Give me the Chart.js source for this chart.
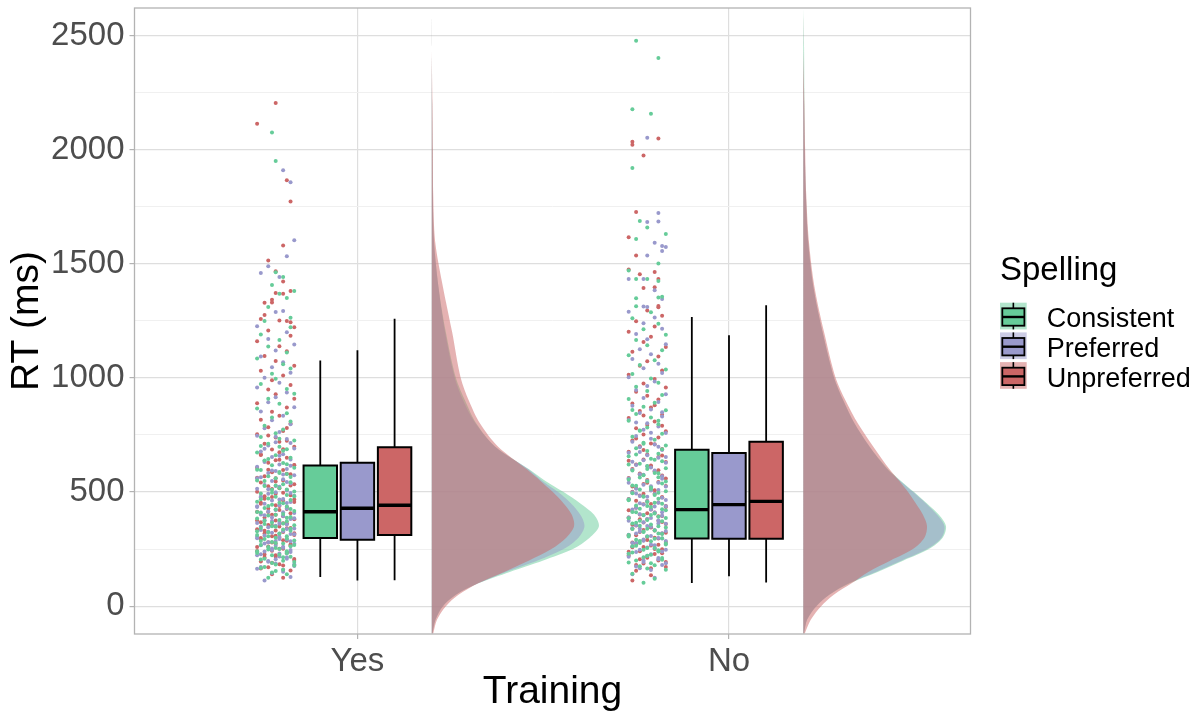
<!DOCTYPE html>
<html>
<head>
<meta charset="utf-8">
<script src="https://cdn.jsdelivr.net/npm/chart.js@4.4.1/dist/chart.umd.min.js"></script>
<style>
  html, body { margin: 0; padding: 0; background: #fff; }
</style>
</head>
<body>
<canvas id="rt_raincloud" width="1200" height="716"></canvas>
<script>
// categories
const trainingLevels = ['Yes', 'No'];
const spellings = ['Consistent', 'Preferred', 'Unpreferred'];
const yTickValues = [0, 250, 500, 750, 1000, 1250, 1500, 1750, 2000, 2250, 2500];

// boxplot stats, [training][spelling]
const boxLow  = [[128, 112, 113], [102, 131, 104]];
const boxQ1   = [[299, 291, 312], [296, 295, 295]];
const boxMed  = [[414, 429, 442], [423, 445, 459]];
const boxQ3   = [[616, 628, 696], [685, 671, 720]];
const boxHigh = [[1076, 1121, 1259], [1267, 1187, 1318]];

// half-violin densities: RT grid and width (in category units)
const densityRT = [-120, -60, 0, 50, 100, 150, 200, 250, 300, 350, 400, 450, 500, 550, 600, 700, 800, 900, 1000, 1200, 1400, 1600, 1800, 2000, 2200, 2450, 2620];
const densYesConsistent  = [0.002,0.01,0.03,0.065,0.125,0.21,0.30,0.38,0.425,0.45,0.437,0.40,0.355,0.305,0.262,0.17,0.12,0.09,0.065,0.038,0.018,0.006,0.003,0.002,0.001,0,0];
const densYesPreferred   = [0.002,0.01,0.03,0.065,0.125,0.2,0.285,0.355,0.395,0.411,0.40,0.375,0.34,0.297,0.26,0.17,0.118,0.085,0.062,0.036,0.018,0.006,0.003,0.002,0.001,0,0];
const densYesUnpreferred = [0.004,0.014,0.038,0.072,0.125,0.195,0.262,0.322,0.362,0.383,0.377,0.355,0.326,0.292,0.256,0.178,0.13,0.1,0.078,0.055,0.03,0.009,0.004,0.003,0.002,0,0];
const densNoConsistent   = [0.002,0.01,0.035,0.07,0.125,0.2,0.27,0.338,0.375,0.384,0.365,0.333,0.298,0.262,0.228,0.178,0.138,0.108,0.083,0.052,0.027,0.013,0.007,0.004,0.003,0.002,0];
const densNoPreferred    = [0.002,0.01,0.035,0.07,0.122,0.195,0.265,0.333,0.372,0.38,0.36,0.33,0.296,0.26,0.226,0.178,0.138,0.108,0.083,0.052,0.027,0.013,0.007,0.004,0.002,0,0];
const densNoUnpreferred  = [0.004,0.02,0.048,0.082,0.13,0.175,0.235,0.295,0.326,0.333,0.322,0.303,0.282,0.258,0.232,0.188,0.147,0.114,0.087,0.056,0.03,0.015,0.008,0.005,0.003,0,0];

// raw trials: [RT, jitter in hundredths of a category]
const ptsYesConsistent = [[2076,-1],[1951,0],[1463,0],[1442,2],[1407,-1],[1381,5],[1369,1],[1350,3],[1311,-2],[1264,4],[1250,-3],[1222,4],
 [1190,-4],[1166,1],[1138,-2],[1112,3],[1085,-5],[1060,2],[1041,4],[1018,-1],[996,0],[973,-4],[952,3],[931,5],[909,-2],[887,1],[866,-5],[845,3],[827,-1],[809,4],[791,-3],[774,2],[758,0],[741,-4],[726,5],[712,-2],[699,1],[687,3],[673,-5],[661,0],[650,4],[638,-3],[627,2],[617,-1],[606,5],[597,-4],[588,1],[579,3],[569,-2],[560,0],[551,-5],[543,4],[534,2],[526,-3],[518,1],[510,-1],[502,5],[494,-4],[487,3],[479,0],[472,-2],[465,4],[458,-5],[451,2],[444,-1],[437,3],[430,-3],[424,0],[417,5],[410,-4],[404,2],[397,-2],[391,4],[384,-5],[378,1],[372,3],[366,-1],[360,-3],[354,5],[348,0],[342,-4],[336,2],[330,4],[324,-2],[318,1],[312,-5],[306,3],[300,0],[294,-3],[288,5],[281,-1],[275,2],[268,-4],[262,4],[255,0],[248,-2],[241,3],[233,-5],[225,1],[217,4],[208,-3],[199,2],[189,-1],[178,5],[167,-4],[154,0],[140,3],[124,-2],
 [645,-2],[622,3],[598,-5],[583,1],[566,4],[548,-3],[529,0],[511,3],[497,-1],[482,5],[468,-4],[453,1],[439,-2],[426,4],[413,-5],[400,0],[387,3],[374,-3],[362,2],[350,-1],[339,4],[328,-5],[317,1],[306,-2],[296,3],[286,-4],[277,0],[268,5],[259,-2],[250,1],[241,-5],[232,3],[223,-1],[214,2],[204,-4],[194,5],[183,0],[172,-3],[160,2],[148,-1],[681,2],[702,-4],[733,1]];
const ptsYesPreferred = [[1910,2],[1857,4],[1603,5],[1533,3],[1489,-2],[1460,-4],[1442,1],[1293,2],[1289,0],[1226,-5],
 [1200,3],[1171,-2],[1146,5],[1120,0],[1094,-4],[1069,2],[1047,-1],[1023,4],[1001,-3],[979,1],[958,-5],[936,3],[915,0],[894,-2],[872,5],[853,-4],[834,2],[815,-1],[797,4],[780,-3],[763,1],[747,-5],[732,3],[718,0],[704,-2],[691,5],[678,-4],[666,2],[654,-1],[643,4],[632,-3],[621,1],[611,-5],[601,3],[592,0],[583,-2],[574,5],[565,-4],[556,2],[548,-1],[539,4],[531,-3],[523,1],[515,-5],[507,3],[499,0],[492,-2],[484,5],[477,-4],[470,2],[463,-1],[456,4],[449,-3],[442,1],[435,-5],[428,3],[421,0],[415,-2],[408,5],[402,-4],[395,2],[389,-1],[382,4],[376,-3],[370,1],[364,-5],[358,3],[352,0],[346,-2],[340,5],[334,-4],[328,2],[322,-1],[316,4],[310,-3],[304,1],[298,-5],[292,3],[286,0],[280,-2],[273,5],[267,-4],[260,2],[253,-1],[246,4],[239,-3],[231,1],[223,-5],[214,3],[205,0],[195,-2],[184,5],[172,-4],[159,2],[145,-1],[128,4],[112,-3],
 [659,1],[637,-3],[615,4],[594,-1],[577,2],[561,-5],[544,3],[527,0],[512,-2],[496,4],[481,-4],[467,1],[452,3],[438,-5],[424,0],[411,2],[398,-3],[385,5],[373,-1],[361,1],[349,-4],[338,3],[326,-2],[315,5],[304,-5],[294,1],[284,4],[275,-3],[265,0],[256,2],[246,-1],[237,4],[227,-4],[218,1],[208,3],[198,-2],[187,0],[176,5],[164,-5],[151,2],[690,-3],[715,4],[742,0]];
const ptsYesUnpreferred = [[2205,0],[2114,-5],[1866,3],[1773,4],[1580,2],[1515,-2],[1467,0],[1423,2],[1381,4],[1372,0],[1369,2],[1343,-1],[1331,-1],[1329,-3],[1276,-3],[1258,-4],[1252,1],[1249,3],[1244,4],[1222,5],
 [1208,-2],[1185,4],[1161,-5],[1139,1],[1117,3],[1096,-3],[1074,0],[1053,5],[1032,-4],[1011,2],[990,-1],[969,4],[949,-2],[929,0],[909,5],[889,-5],[870,3],[852,-1],[834,1],[817,-4],[800,4],[784,-2],[768,2],[753,-5],[739,0],[725,3],[712,-3],[699,5],[686,-1],[674,1],[662,-4],[650,3],[639,0],[628,-2],[617,5],[607,-5],[597,2],[587,-1],[578,4],[569,-3],[560,0],[551,2],[542,-4],[534,5],[525,-2],[517,1],[509,3],[501,-5],[493,0],[486,4],[478,-1],[471,-3],[463,2],[456,5],[449,-4],[442,0],[435,3],[428,-2],[421,1],[414,-5],[407,4],[401,-1],[394,2],[388,-3],[381,5],[375,0],[368,-4],[362,3],[356,-2],[349,1],[343,4],[337,-5],[331,0],[325,2],[318,-3],[312,5],[306,-1],[300,1],[293,-4],[287,3],[280,-2],[273,0],[266,4],[259,-5],[251,2],[243,-1],[235,3],[226,-3],[217,0],[207,5],[196,-4],[184,1],[171,-2],[156,4],[140,-1],[125,2],
 [688,2],[664,-4],[641,1],[619,5],[598,-2],[580,3],[563,-5],[546,0],[529,4],[513,-1],[497,2],[482,-3],[467,5],[453,-4],[439,1],[426,3],[413,-2],[400,0],[387,4],[375,-5],[363,2],[352,-1],[341,3],[330,-3],[319,5],[309,0],[299,-4],[289,2],[279,-1],[270,4],[261,-2],[252,1],[242,-5],[233,3],[223,0],[213,-3],[202,5],[190,-1],[178,2],[165,-4],[720,1],[748,-2],[781,3]];
const ptsNoConsistent = [[2477,-3],[2402,3],[2177,-4],[2158,1],[1920,-4],[1688,-2],[1659,0],[1631,5],[1609,-3],[1502,3],[1471,-5],[1434,-3],[1434,0],[1425,3],[1349,-3],[1352,3],[1356,4],[1314,-3],
 [1288,1],[1262,-4],[1237,3],[1213,-1],[1189,5],[1166,-3],[1143,0],[1121,4],[1099,-5],[1078,2],[1057,-2],[1037,5],[1017,-4],[998,1],[979,3],[961,-3],[943,0],[925,4],[908,-5],[891,2],[874,-1],[858,5],[842,-3],[827,1],[812,-5],[797,3],[783,0],[769,-2],[755,4],[742,-4],[729,2],[716,-1],[704,5],[692,-3],[680,0],[668,3],[657,-5],[646,1],[635,4],[624,-2],[614,0],[604,5],[594,-4],[584,2],[574,-1],[565,3],[555,-5],[546,0],[537,4],[528,-3],[520,1],[511,-2],[503,5],[495,-4],[487,2],[479,-1],[471,3],[464,-5],[456,0],[449,4],[441,-3],[434,1],[427,-2],[420,5],[413,-4],[406,2],[399,-1],[392,3],[385,-5],[378,0],[372,4],[365,-3],[358,1],[352,-2],[345,5],[338,-4],[332,2],[325,-1],[318,3],[312,-5],[305,0],[298,4],[291,-3],[284,1],[277,-2],[270,5],[262,-4],[255,2],[247,-1],[239,3],[230,-5],[221,0],[211,4],[200,-3],[188,1],[175,-2],[160,5],[142,-4],[120,2],[103,-1],
 [712,-1],[688,4],[664,-3],[642,2],[621,-5],[601,0],[582,3],[564,-2],[546,5],[529,-4],[513,1],[497,3],[482,-1],[467,-5],[453,2],[439,0],[425,4],[412,-3],[399,1],[386,5],[374,-2],[362,-4],[350,3],[339,0],[327,-1],[316,4],[305,-5],[295,2],[285,-2],[275,5],[265,-3],[255,0],[245,3],[235,-4],[225,1],[214,-1],[203,4],[191,-5],[179,2],[165,0],[770,-2],[812,3],[860,-4]];
const ptsNoPreferred = [[2053,0],[1723,3],[1686,3],[1683,0],[1592,2],[1578,4],[1574,5],[1556,4],[1536,0],[1434,-5],[1434,-1],[1384,2],[1346,4],[1313,-1],[1311,0],
 [1290,-5],[1265,2],[1240,-1],[1216,4],[1193,-3],[1170,0],[1148,5],[1126,-2],[1104,1],[1083,-4],[1062,3],[1042,-1],[1022,4],[1003,-5],[984,2],[965,0],[947,-3],[929,5],[912,-1],[895,3],[878,-4],[862,1],[846,-2],[831,4],[816,-5],[801,0],[787,3],[773,-1],[759,5],[746,-3],[733,1],[720,-4],[708,2],[696,-2],[684,4],[672,-5],[661,0],[650,3],[639,-1],[628,5],[618,-3],[608,1],[598,-4],[588,2],[578,-2],[569,4],[559,-5],[550,0],[541,3],[532,-1],[524,5],[515,-3],[507,1],[499,-4],[491,2],[483,-2],[475,4],[468,-5],[460,0],[453,3],[445,-1],[438,5],[431,-3],[424,1],[417,-4],[410,2],[403,-2],[396,4],[389,-5],[382,0],[375,3],[368,-1],[361,5],[355,-3],[348,1],[341,-4],[334,2],[327,-2],[320,4],[313,-5],[306,0],[299,3],[292,-1],[285,5],[278,-3],[270,1],[263,-4],[255,2],[247,-2],[239,4],[230,-5],[221,0],[211,3],[200,-1],[188,5],[174,-3],[158,1],[140,-4],[125,2],
 [698,3],[676,-2],[654,5],[633,-4],[613,0],[594,2],[576,-1],[558,4],[541,-5],[525,1],[509,3],[494,-3],[479,0],[465,5],[451,-2],[437,2],[424,-4],[411,4],[398,-1],[386,1],[374,-5],[362,3],[351,0],[340,-2],[329,5],[318,-3],[307,1],[297,4],[287,-1],[277,-4],[267,2],[257,0],[247,5],[237,-3],[227,1],[216,-5],[205,3],[193,-1],[180,4],[166,-2],[760,1],[805,-3],[850,4]];
const ptsNoUnpreferred = [[2049,3],[2035,-4],[2022,-4],[1975,-1],[1727,-3],[1616,-5],[1536,-3],[1475,-5],[1464,2],[1454,-2],[1434,3],[1397,2],[1394,-1],[1315,3],[1310,3],
 [1296,0],[1272,4],[1248,-3],[1225,2],[1202,-5],[1180,1],[1158,-1],[1136,5],[1115,-4],[1094,3],[1073,0],[1053,-2],[1033,4],[1014,-5],[995,2],[976,-1],[958,5],[940,-3],[922,0],[905,3],[888,-4],[871,1],[855,-2],[839,4],[824,-5],[809,2],[794,0],[780,-3],[766,5],[752,-1],[739,3],[726,-4],[713,1],[701,-2],[689,4],[677,-5],[665,0],[654,3],[643,-1],[632,5],[621,-3],[611,1],[601,-4],[591,2],[581,-2],[572,4],[562,-5],[553,0],[544,3],[535,-1],[526,5],[518,-3],[509,1],[501,-4],[493,2],[485,-2],[477,4],[469,-5],[461,0],[454,3],[446,-1],[439,5],[431,-3],[424,1],[417,-4],[410,2],[402,-2],[395,4],[388,-5],[381,0],[374,3],[367,-1],[360,5],[353,-3],[346,1],[339,-4],[332,2],[325,-2],[318,4],[311,-5],[303,0],[296,3],[289,-1],[281,5],[274,-3],[266,1],[258,-4],[250,2],[241,-2],[232,4],[222,-5],[212,0],[200,3],[187,-1],[172,5],[155,-3],[135,1],[112,-4],
 [735,-3],[709,2],[684,-1],[660,4],[637,-5],[616,1],[596,3],[577,-2],[559,5],[541,0],[524,-4],[508,2],[492,-1],[477,4],[462,-3],[448,1],[434,5],[420,-5],[407,0],[394,3],[381,-2],[369,4],[357,-4],[345,1],[334,-1],[322,5],[311,-3],[300,2],[290,0],[279,-4],[269,3],[259,-1],[249,4],[238,-5],[228,2],[217,0],[205,-2],[193,5],[180,-3],[166,1],[790,4],[835,-1],[880,2]];

const pointSets = [[ptsYesConsistent, ptsYesPreferred, ptsYesUnpreferred], [ptsNoConsistent, ptsNoPreferred, ptsNoUnpreferred]];
const densitySets = [[densYesConsistent, densYesPreferred, densYesUnpreferred], [densNoConsistent, densNoPreferred, densNoUnpreferred]];

// look
const colors = ['#66CC99', '#9999CC', '#CC6666'];
const colorsHalf = ['rgba(102,204,153,0.5)', 'rgba(153,153,204,0.5)', 'rgba(204,102,102,0.5)'];
const jitterCenter = -0.22;
const boxOffsets = [-0.1, 0, 0.1];
const boxHalf = 0.045;
const densityOffset = 0.2;

Chart.defaults.font.family = "'Liberation Sans', Arial, sans-serif";

const datasets = [];

pointSets.forEach((group, t) => group.forEach((pts, s) => {
  datasets.push({
    type: 'scatter',
    data: pts.map(p => ({x: t + 1 + jitterCenter + p[1] / 100, y: p[0]})),
    pointRadius: 2,
    pointBackgroundColor: colors[s],
    pointBorderWidth: 0,
    order: 50
  });
}));

densitySets.forEach((group, t) => group.forEach((w, s) => {
  const base = t + 1 + densityOffset;
  const pts = densityRT.map((rt, i) => ({x: base + w[i], y: rt}));
  pts.push({x: base, y: densityRT[densityRT.length - 1]}, {x: base, y: densityRT[0]});
  datasets.push({
    type: 'line',
    data: pts,
    fill: 'shape',
    backgroundColor: colorsHalf[s],
    borderColor: 'rgba(0,0,0,0)',
    borderWidth: 0,
    pointRadius: 0,
    tension: 0.3,
    order: 40 - s
  });
}));

trainingLevels.forEach((lvl, t) => spellings.forEach((sp, s) => {
  const cx = t + 1 + boxOffsets[s];
  const l = cx - boxHalf, r = cx + boxHalf;
  const q1 = boxQ1[t][s], q3 = boxQ3[t][s], md = boxMed[t][s];
  // whisker (sits behind the box)
  datasets.push({
    type: 'line', data: [{x: cx, y: boxLow[t][s]}, {x: cx, y: boxHigh[t][s]}],
    borderColor: '#000', borderWidth: 1.8, pointRadius: 0, fill: false, order: 30
  });
  datasets.push({
    type: 'line',
    data: [{x: l, y: q1}, {x: r, y: q1}, {x: r, y: q3}, {x: l, y: q3}, {x: l, y: q1}, {x: r, y: q1}],
    fill: 'shape', backgroundColor: colors[s], borderColor: '#000', borderWidth: 2,
    borderJoinStyle: 'miter', pointRadius: 0, tension: 0, order: 20
  });
  datasets.push({
    type: 'line', data: [{x: l, y: md}, {x: r, y: md}],
    borderColor: '#000', borderWidth: 3.4, borderCapStyle: 'butt', pointRadius: 0, fill: false, order: 10
  });
}));

// grey frame round the panel, like theme_light
const panelBorder = {
  id: 'panelBorder',
  afterDatasetsDraw(chart) {
    const {ctx, chartArea: a} = chart;
    ctx.save();
    ctx.strokeStyle = '#B3B3B3';
    ctx.lineWidth = 1.3;
    ctx.strokeRect(a.left, a.top, a.right - a.left, a.bottom - a.top);
    ctx.restore();
  }
};

// ggplot style legend with boxplot keys
const spellingLegend = {
  id: 'spellingLegend',
  afterDraw(chart) {
    const ctx = chart.ctx;
    const x0 = chart.chartArea.right + 29.5;
    const k = 26.7;
    ctx.save();
    ctx.fillStyle = '#000';
    ctx.textBaseline = 'alphabetic';
    ctx.font = "33px 'Liberation Sans', Arial, sans-serif";
    ctx.fillText('Spelling', x0, 280);
    ctx.font = "27px 'Liberation Sans', Arial, sans-serif";
    spellings.forEach((sp, s) => {
      const top = 302.7 + s * 29.7;
      ctx.fillStyle = colorsHalf[s];
      ctx.fillRect(x0, top, k, k);
      ctx.strokeStyle = '#000';
      ctx.lineWidth = 1.6;
      ctx.beginPath();
      ctx.moveTo(x0 + k / 2, top);
      ctx.lineTo(x0 + k / 2, top + k);
      ctx.stroke();
      ctx.fillStyle = colors[s];
      ctx.fillRect(x0 + 2.3, top + 5.6, k - 4.6, 17.4);
      ctx.lineWidth = 1.8;
      ctx.strokeRect(x0 + 2.3, top + 5.6, k - 4.6, 17.4);
      ctx.lineWidth = 2.4;
      ctx.beginPath();
      ctx.moveTo(x0 + 2.3, top + 14.3);
      ctx.lineTo(x0 + k - 2.3, top + 14.3);
      ctx.stroke();
      ctx.fillStyle = '#000';
      ctx.fillText(sp, x0 + 46.7, top + 24.6);
    });
    ctx.restore();
  }
};

const isMajor = v => v % 500 === 0;

new Chart(document.getElementById('rt_raincloud'), {
  type: 'scatter',
  data: {datasets: datasets},
  plugins: [panelBorder, spellingLegend],
  options: {
    responsive: false,
    animation: false,
    layout: {padding: {top: 8, right: 229.5, left: 0, bottom: 0}},
    plugins: {
      legend: {display: false},
      tooltip: {enabled: false}
    },
    scales: {
      x: {
        type: 'linear', min: 0.4, max: 2.65,
        afterBuildTicks: s => { s.ticks = trainingLevels.map((_, i) => ({value: i + 1})); },
        afterFit: s => { s.height = 82; s.paddingLeft = 0; s.paddingRight = 0; },
        ticks: {
          callback: v => trainingLevels[Math.round(v) - 1],
          color: '#4D4D4D', font: {size: 33}, padding: 3, autoSkip: false, maxRotation: 0
        },
        grid: {color: '#DEDEDE', lineWidth: 1.2, tickLength: 5, tickColor: '#B3B3B3'},
        border: {display: false},
        title: {display: true, text: 'Training', color: '#000', font: {size: 39}, padding: {top: 0, bottom: 0}}
      },
      y: {
        type: 'linear', min: -122, max: 2621,
        afterBuildTicks: s => { s.ticks = yTickValues.map(v => ({value: v})); },
        afterFit: s => { s.width = 134.5; s.paddingTop = 0; s.paddingBottom = 0; },
        ticks: {
          callback: v => isMajor(v) ? String(v) : '',
          color: '#4D4D4D', font: {size: 33}, padding: 5, autoSkip: false
        },
        grid: {
          color: c => (c.tick && isMajor(c.tick.value)) ? '#DEDEDE' : '#F0F0F0',
          lineWidth: c => (c.tick && isMajor(c.tick.value)) ? 1.2 : 1,
          tickLength: 5,
          tickColor: c => (c.tick && isMajor(c.tick.value)) ? '#B3B3B3' : 'rgba(0,0,0,0)'
        },
        border: {display: false},
        title: {display: true, text: 'RT (ms)', color: '#000', font: {size: 39}, padding: {top: 4, bottom: 0}}
      }
    }
  }
});
</script>
</body>
</html>
